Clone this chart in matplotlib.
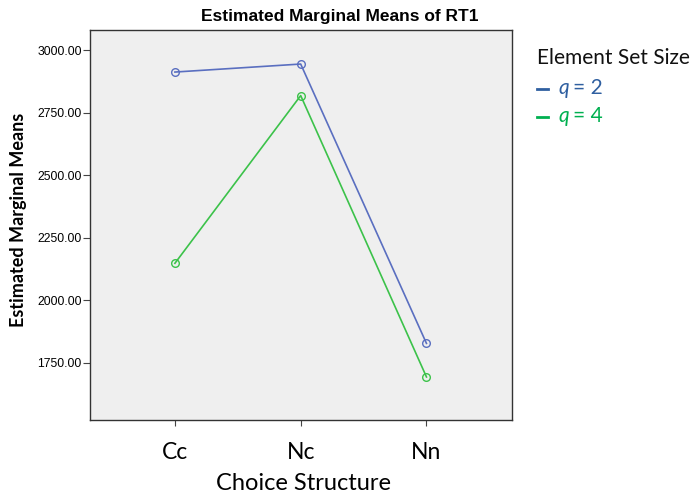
import matplotlib
matplotlib.use("Agg")
import matplotlib.pyplot as plt
from matplotlib.lines import Line2D

categories = ["Cc", "Nc", "Nn"]
q2_values = [2912, 2944, 1828]
q4_values = [2148, 2818, 1694]
yticks = [1750, 2000, 2250, 2500, 2750, 3000]
legend_title = "Element Set Size"
legend_labels = ["2", "4"]

W, H = 697, 499
fig = plt.figure(figsize=(W / 100, H / 100), dpi=100)
ax = fig.add_axes([90 / W, 1 - 420 / H, (512 - 90) / W, (420 - 30) / H])
ax.set_facecolor("#efefef")
x = range(len(categories))
blue = "#5a6fc0"
green = "#3cc24a"
ax.plot(x, q2_values, color=blue, lw=1.2, marker="o", ms=5.5, mfc="none", mec=blue, mew=1.0)
ax.plot(x, q4_values, color=green, lw=1.2, marker="o", ms=5.5, mfc="none", mec=green, mew=1.0)
ax.set_xlim(-0.675, 2.68)
ax.set_ylim(1522, 3080)
ax.set_yticks(yticks)
ax.set_yticklabels([f"{v:.2f}" for v in yticks], fontsize=8.8, family="Liberation Sans")
ax.set_xticks(list(x))
ax.set_xticklabels(categories, fontsize=16.5, family="Lato")
ax.tick_params(axis="x", length=4, pad=12, color="#444444")
ax.tick_params(axis="y", length=5, pad=1, color="#444444")
for s in ax.spines.values():
    s.set_color("#333333")
    s.set_linewidth(1.0)

fig.text(19 / W, 1 - 220 / H, "Estimated Marginal Means", rotation=90, ha="center", va="center",
         fontsize=13, fontweight="bold", family="Lato")
fig.text(303 / W, 1 - 484 / H, "Choice Structure", ha="center", va="center",
         fontsize=17, family="Lato")
fig.text(201 / W, 1 - 16 / H, "Estimated Marginal Means of RT1", ha="left", va="center",
         fontsize=12.5, fontweight="bold", family="Liberation Sans")

fig.text(537 / W, 1 - 58 / H, legend_title, ha="left", va="center", fontsize=15, family="Lato", color="#111111")
for lab, col, yy in zip(legend_labels, ["#2f5fa0", "#00b050"], [88, 116]):
    fig.add_artist(Line2D([537 / W, 548 / W], [1 - (yy + 1) / H, 1 - (yy + 1) / H],
                          transform=fig.transFigure, color=col, lw=2.0))
    fig.text(558 / W, 1 - yy / H, "q", ha="left", va="center", fontsize=15, family="Lato",
             style="italic", color=col)
    fig.text(573 / W, 1 - yy / H, "= " + lab, ha="left", va="center", fontsize=15, family="Lato", color=col)

fig.savefig("out.png", dpi=100)
